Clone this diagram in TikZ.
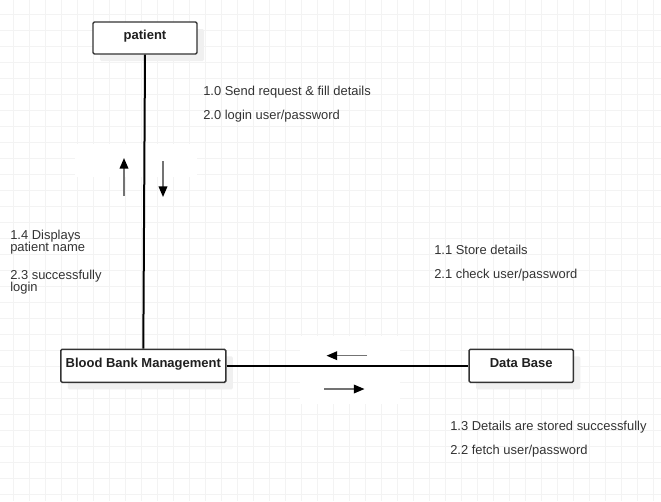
\documentclass[tikz,border=0pt]{standalone}
\usepackage{fontspec}
\setmainfont{Liberation Sans}
\usetikzlibrary{arrows.meta,shadows}
\definecolor{gridc}{HTML}{F3F3F3}
\definecolor{txtc}{HTML}{333333}
\definecolor{boxc}{HTML}{333333}
\definecolor{shadc}{HTML}{F0F0F0}
\begin{document}
\begin{tikzpicture}[x=0.75pt,y=-0.75pt,
  entity/.style={draw=boxc, line width=1.1pt, fill=white, rounded corners=1pt,
    font=\fontsize{9.75pt}{11pt}\selectfont\bfseries, text=black!88, inner sep=0pt,
    text height=7pt, text depth=4.9pt,
    drop shadow={shadow xshift=5.25pt, shadow yshift=-5.25pt, fill=shadc, opacity=1, draw=none}},
  link/.style={line width=1.5pt, black},
  flow/.style={draw=black!55, line width=1.1pt, -{Triangle[length=8pt,width=6.5pt,color=black]}},
  lbl/.style={anchor=base west, inner sep=0pt, text=txtc, font=\fontsize{9.7pt}{11pt}\selectfont}]
\useasboundingbox (0,0) rectangle (661,501);
\fill[white] (0,0) rectangle (661,501);
% grid
\foreach \i in {0,...,40} {\draw[gridc, line width=0.75pt] (13.5+16*\i,0) -- (13.5+16*\i,501);}
\foreach \j in {0,...,30} {\draw[gridc, line width=0.75pt] (0,14+16*\j) -- (661,14+16*\j);}
% white label patches
\fill[white] (75,143.5) rectangle (197,177);
\fill[white] (300,336) rectangle (400,404);
% entities
\node[entity, minimum width=78pt, minimum height=24pt] (patient) at (145,38) {patient};
\node[entity, minimum width=123.75pt, minimum height=24.75pt] (bbm) at (143.3,365.8) {Blood Bank Management};
\node[entity, minimum width=78.2pt, minimum height=24.75pt] (db) at (521.2,365.8) {Data Base};
% connectors
\draw[link] (patient.south) -- (bbm.north);
\draw[link] (bbm.east) -- (db.west);
% direction arrows
\coordinate (u1) at (124,196); \coordinate (u2) at (124,158);
\coordinate (d1) at (163,161); \coordinate (d2) at (163,197);
\coordinate (l1) at (367,355.7); \coordinate (l2) at (326.5,355.7);
\coordinate (r1) at (324,389); \coordinate (r2) at (364.5,389);
\draw[flow] (u1) -- (u2);
\draw[flow] (d1) -- (d2);
\draw[flow] (l1) -- (l2);
\draw[flow] (r1) -- (r2);
% labels
\node[lbl] (t10) at (203,95) {1.0 Send request \& fill details};
\node[lbl] (t20) at (203,119) {2.0 login user/password};
\node[lbl] (t14a) at (10,239) {1.4 Displays};
\node[lbl] (t14b) at (10,251.7) {patient name};
\node[lbl] (t23a) at (10,279) {2.3 successfully};
\node[lbl] (t23b) at (10,291.3) {login};
\node[lbl] (t11) at (434,254.5) {1.1 Store details};
\node[lbl] (t21) at (434,278.5) {2.1 check user/password};
\node[lbl] (t13) at (450,430.5) {1.3 Details are stored successfully};
\node[lbl] (t22) at (450,454.5) {2.2 fetch user/password};
\end{tikzpicture}
\end{document}
